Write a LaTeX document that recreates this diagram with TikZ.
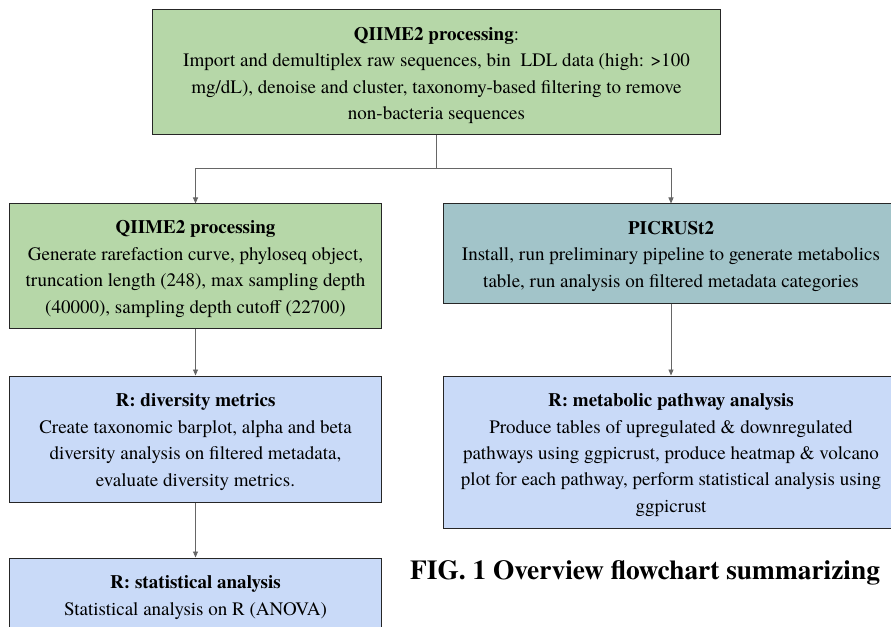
\documentclass[tikz,border=0pt]{standalone}
\usepackage{fontspec}
\setmainfont{texgyretermes}[Extension=.otf, UprightFont=*-regular, BoldFont=*-bold,
    ItalicFont=*-italic, BoldItalicFont=*-bolditalic]
\usepackage{tikz}
\usetikzlibrary{arrows.meta}
\definecolor{qiimegreen}{HTML}{B6D7A8}
\definecolor{picrustteal}{HTML}{A2C4C9}
\definecolor{rblue}{HTML}{C9DAF8}
\definecolor{flowgray}{HTML}{666666}
\newcommand{\boxtitle}[1]{\rule{0pt}{19bp}\textbf{#1}}

\begin{document}
\begin{tikzpicture}[x=1bp, y=-1bp,
    box/.style={draw=black!85, line width=1bp, align=center, inner sep=0pt,
        font=\fontsize{19.1}{26.5}\selectfont},
    leftbox/.style={box, minimum width=371bp},
    rightbox/.style={box, minimum width=456bp},
    flowline/.style={draw=flowgray, line width=0.9bp},
    flow/.style={flowline, -{Triangle[length=6bp, width=5bp]}}]
    % Frame
    \useasboundingbox (0,0) rectangle (891,627);
    \clip (0,0) rectangle (891,627);

    % Top step
    \node[box, fill=qiimegreen, minimum width=567bp, minimum height=125bp] (qiime) at (436.5,72.5)
        {\boxtitle{QIIME2 processing}:\\
         Import and demultiplex raw sequences, bin \ LDL data (high: >100\\
         mg/dL), denoise and cluster, taxonomy-based filtering to remove\\
         non-bacteria sequences};

    % Left branch
    \node[leftbox, fill=qiimegreen, minimum height=124bp] (proc) at (195.5,266)
        {\boxtitle{QIIME2 processing}\\
         Generate rarefaction curve, phyloseq object,\\
         truncation length (248), max sampling depth\\
         (40000), sampling depth cutoff (22700)};
    \node[leftbox, fill=rblue, minimum height=126bp] (diversity) at (195.5,439)
        {\boxtitle{R: diversity metrics}\\
         Create taxonomic barplot, alpha and beta\\
         diversity analysis on filtered metadata,\\
         evaluate diversity metrics.};
    \node[leftbox, fill=rblue, minimum height=73bp] (stats) at (195.5,594.5)
        {\boxtitle{R: statistical analysis}\\
         Statistical analysis on R (ANOVA)};

    % Right branch
    \node[rightbox, fill=picrustteal, minimum height=99bp] (picrust) at (671,253.5)
        {\boxtitle{PICRUSt2}\\
         Install, run preliminary pipeline to generate metabolics\\
         table, run analysis on filtered metadata categories};
    \node[rightbox, fill=rblue, minimum height=152bp] (pathway) at (671,452)
        {\boxtitle{R: metabolic pathway analysis}\\
         Produce tables of upregulated \& downregulated\\
         pathways using ggpicrust, produce heatmap \& volcano\\
         plot for each pathway, perform statistical analysis using\\
         ggpicrust};

    % Caption
    \node[anchor=base west, inner sep=0pt, font=\bfseries\fontsize{27.5}{32}\selectfont] (caption)
        at (410,579) {FIG. 1 Overview flowchart summarizing};

    % Connectors
    \coordinate (split) at (436.5,168);
    \draw[flowline] (qiime.south) -- (split);
    \draw[flow] (split) -| (proc.north);
    \draw[flow] (split) -| (picrust.north);
    \draw[flow] (proc.south) -- (diversity.north);
    \draw[flow] (diversity.south) -- (stats.north);
    \draw[flow] (picrust.south) -- (pathway.north);
\end{tikzpicture}
\end{document}
